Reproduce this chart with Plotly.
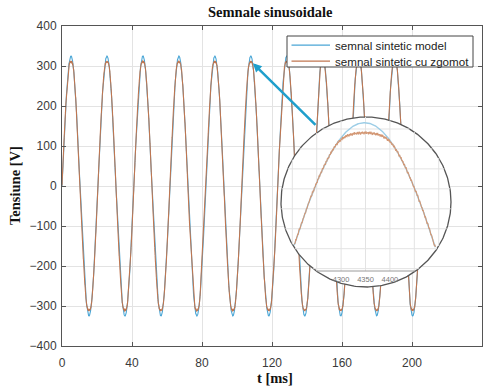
import numpy as np
import plotly.graph_objects as go

# ---------------------------------------------------------------------------
# Signal description
# ---------------------------------------------------------------------------
PERIOD_MS = 20.55           # one cycle of the synthetic waveform
CYCLES = 10
SAMPLE_RATE_HZ = 40300
AMPLITUDE_MODEL_V = 325.0   # crest of the clean model
KNEE_V = 280.0              # the noisy copy starts flattening above this level
CEILING_V = 316.0           # asymptote of the flattened crest
NOISE_V = [1.8, -1.2, 0.6, -2.1, 1.4, 0.3, -0.9, 2.2, -1.6, 0.8, -0.4, 1.1,
           -1.9, 0.5, 1.6, -0.7, -1.3, 2.0, -0.2, 0.9, -2.3, 1.2, 0.1, -1.0]

X_TICKS = [0, 40, 80, 120, 160, 200, 240]
Y_TICKS = [-400, -300, -200, -100, 0, 100, 200, 300, 400]
INSET_TICKS = [4300, 4350, 4400]
ZOOMED_CYCLE = 5            # crest shown magnified in the circular inset

SERIES_NAMES = ["semnal sintetic model", "semnal sintetic cu zgomot"]

# ---------------------------------------------------------------------------
# Waveforms
# ---------------------------------------------------------------------------
n_samples = int(round(CYCLES * PERIOD_MS * 1e-3 * SAMPLE_RATE_HZ)) + 1
sample_idx = np.arange(n_samples)
t_ms = sample_idx * 1000.0 / SAMPLE_RATE_HZ
model = AMPLITUDE_MODEL_V * np.sin(2 * np.pi * t_ms / PERIOD_MS)

mag = np.abs(model)
span = CEILING_V - KNEE_V
flattened = np.where(mag > KNEE_V, KNEE_V + span * np.tanh((mag - KNEE_V) / span), mag)
noise = np.array(NOISE_V)[sample_idx % len(NOISE_V)]
noisy = np.sign(model) * flattened + noise

# ---------------------------------------------------------------------------
# Page geometry (pixels of a 488 x 387 page)
# ---------------------------------------------------------------------------
W, H = 488, 387
PLOT_L, PLOT_R, PLOT_T, PLOT_B = 62, 482, 26, 346

CX, CY, R = 366, 202, 85          # circular magnifier
PAD = 3
INSET_PX_PER_SAMPLE = 0.488
INSET_PX_PER_VOLT = 0.70
INSET_CENTER_SAMPLE = 4351
INSET_CENTER_V = 211.7
INSET_AXIS_PX = 271               # inset x-axis line (px from top)


def fx(px):
    return px / W


def fy(py):
    return 1 - py / H


BLUE = "#4aa6d6"
ORANGE = "#c07650"
INSET_BLUE = "#9ccde6"
INSET_ORANGE = "#d39774"
GRID = "#e3e3e3"
AXIS = "#555555"
SANS = "Liberation Sans, Arial, sans-serif"
SERIF = "Liberation Serif, Times New Roman, serif"
COLORS = [BLUE, ORANGE]

fig = go.Figure()

# main signals
for series, name, color in zip((model, noisy), SERIES_NAMES, COLORS):
    fig.add_trace(go.Scatter(x=t_ms, y=series, mode="lines", name=name,
                             line=dict(color=color, width=1.1), showlegend=False))

# ---------------------------------------------------------------------------
# Circular magnifier (second pair of axes stacked over the main plot)
# ---------------------------------------------------------------------------
half_s = (R + PAD) / INSET_PX_PER_SAMPLE
half_v = (R + PAD) / INSET_PX_PER_VOLT
x2_range = [INSET_CENTER_SAMPLE - half_s, INSET_CENTER_SAMPLE + half_s]
y2_range = [INSET_CENTER_V - half_v, INSET_CENTER_V + half_v]


def inside(s, v):
    dx = (np.asarray(s) - INSET_CENTER_SAMPLE) * INSET_PX_PER_SAMPLE
    dy = (np.asarray(v) - INSET_CENTER_V) * INSET_PX_PER_VOLT
    return dx ** 2 + dy ** 2 <= (R - 1) ** 2


# white disc with a dark rim
phi = np.linspace(0, 2 * np.pi, 361)
fig.add_trace(go.Scatter(
    x=INSET_CENTER_SAMPLE + R / INSET_PX_PER_SAMPLE * np.cos(phi),
    y=INSET_CENTER_V + R / INSET_PX_PER_VOLT * np.sin(phi),
    xaxis="x2", yaxis="y2", mode="lines", fill="toself", fillcolor="white",
    line=dict(color="#555555", width=1.3), showlegend=False, hoverinfo="skip"))

# inset grid, clipped to the disc
axis_v = INSET_CENTER_V - (INSET_AXIS_PX - CY) / INSET_PX_PER_VOLT
gx, gy = [], []
for s in np.arange(4200, 4501, 50):
    dx = (s - INSET_CENTER_SAMPLE) * INSET_PX_PER_SAMPLE
    if abs(dx) >= R:
        continue
    h = np.sqrt(R ** 2 - dx ** 2) / INSET_PX_PER_VOLT
    gx += [s, s, None]
    gy += [max(INSET_CENTER_V - h, axis_v), INSET_CENTER_V + h, None]
for v in np.arange(116.5, 340, 28.5):
    dy = (v - INSET_CENTER_V) * INSET_PX_PER_VOLT
    if abs(dy) >= R:
        continue
    w = np.sqrt(R ** 2 - dy ** 2) / INSET_PX_PER_SAMPLE
    gx += [INSET_CENTER_SAMPLE - w, INSET_CENTER_SAMPLE + w, None]
    gy += [v, v, None]
fig.add_trace(go.Scatter(x=gx, y=gy, xaxis="x2", yaxis="y2", mode="lines",
                         line=dict(color=GRID, width=1), showlegend=False,
                         hoverinfo="skip"))

# inset axis line
dy_axis = (axis_v - INSET_CENTER_V) * INSET_PX_PER_VOLT
w_axis = np.sqrt(R ** 2 - dy_axis ** 2) / INSET_PX_PER_SAMPLE
fig.add_trace(go.Scatter(x=[INSET_CENTER_SAMPLE - w_axis, INSET_CENTER_SAMPLE + w_axis],
                         y=[axis_v, axis_v], xaxis="x2", yaxis="y2", mode="lines",
                         line=dict(color="#9a9a9a", width=1), showlegend=False,
                         hoverinfo="skip"))

# magnified crest, same samples as the main traces
sel = (sample_idx >= x2_range[0]) & (sample_idx <= x2_range[1])
s_sel = sample_idx[sel]
for series, color, width in ((model, INSET_BLUE, 1.4), (noisy, INSET_ORANGE, 1.1)):
    vals = series[sel]
    keep = inside(s_sel, vals)
    yv = [float(v) if k else None for v, k in zip(vals, keep)]
    fig.add_trace(go.Scatter(x=s_sel.tolist(), y=yv, xaxis="x2", yaxis="y2",
                             mode="lines", line=dict(color=color, width=width),
                             showlegend=False, hoverinfo="skip"))

# ---------------------------------------------------------------------------
# Legend box (drawn as shapes + text so rows sit close together)
# ---------------------------------------------------------------------------
LEG_L, LEG_T, LEG_R, LEG_B = 287, 36, 473, 67
leg_rows = [45.2, 61.2]
shapes = [dict(type="rect", xref="paper", yref="paper", x0=fx(LEG_L), x1=fx(LEG_R),
               y0=fy(LEG_B), y1=fy(LEG_T), fillcolor="white",
               line=dict(color="#444444", width=1), layer="above")]
legend_text = []
for row, name, color in zip(leg_rows, SERIES_NAMES, COLORS):
    shapes.append(dict(type="line", xref="paper", yref="paper", x0=fx(291.5), x1=fx(330),
                       y0=fy(row), y1=fy(row), line=dict(color=color, width=1.2),
                       layer="above"))
    legend_text.append(dict(text=name, x=fx(333), y=fy(row), xref="paper", yref="paper",
                            showarrow=False, xanchor="left", yanchor="middle",
                            font=dict(family=SANS, size=11.6, color="#222222")))

# ---------------------------------------------------------------------------
# Layout
# ---------------------------------------------------------------------------
axis_common = dict(showline=True, linecolor=AXIS, linewidth=1, mirror="ticks",
                   ticks="inside", ticklen=4, tickcolor=AXIS, showgrid=True,
                   gridcolor=GRID, gridwidth=1, zeroline=False, automargin=False,
                   tickfont=dict(family=SANS, size=12, color="#3a3a3a"))

crest_t = (ZOOMED_CYCLE + 0.25) * PERIOD_MS

fig.update_layout(
    width=W, height=H,
    margin=dict(l=0, r=0, t=0, b=0, autoexpand=False),
    paper_bgcolor="white", plot_bgcolor="rgba(0,0,0,0)",
    xaxis=dict(axis_common, domain=[fx(PLOT_L), fx(PLOT_R)], range=[0, 240],
               tickvals=X_TICKS, ticklabelstandoff=6),
    yaxis=dict(axis_common, domain=[fy(PLOT_B), fy(PLOT_T)], range=[-400, 400],
               tickvals=Y_TICKS, ticklabelstandoff=2),
    xaxis2=dict(domain=[fx(CX - R - PAD), fx(CX + R + PAD)], range=x2_range,
                anchor="free", position=fy(INSET_AXIS_PX), showgrid=False,
                zeroline=False, showline=False, ticks="", tickvals=INSET_TICKS,
                automargin=False, ticklabelstandoff=2,
                tickfont=dict(family=SANS, size=7.5, color="#777777")),
    yaxis2=dict(domain=[fy(CY + R + PAD), fy(CY - R - PAD)], range=y2_range,
                anchor="x2", visible=False, automargin=False),
    showlegend=False,
    shapes=shapes,
    annotations=legend_text + [
        dict(text="<b>Semnale sinusoidale</b>", x=fx(270), y=fy(12.5),
             xref="paper", yref="paper", showarrow=False, xanchor="center",
             yanchor="middle", font=dict(family=SERIF, size=14.5, color="#111111")),
        dict(text="<b>Tensiune [V]</b>", x=fx(15), y=fy(186), xref="paper",
             yref="paper", showarrow=False, textangle=-90, xanchor="center",
             yanchor="middle", font=dict(family=SERIF, size=14.5, color="#111111")),
        dict(text="<b>t [ms]</b>", x=fx(274.5), y=fy(378), xref="paper",
             yref="paper", showarrow=False, xanchor="center", yanchor="middle",
             borderpad=0, font=dict(family=SERIF, size=14.5, color="#111111")),
        dict(text="", x=crest_t + 1.2, y=307, xref="x", yref="y",
             ax=145.7, ay=149, axref="x", ayref="y", showarrow=True,
             arrowhead=2, arrowsize=0.7, arrowwidth=2.5, arrowcolor="#1f9fcc"),
    ],
)

fig.write_html("out.html")
